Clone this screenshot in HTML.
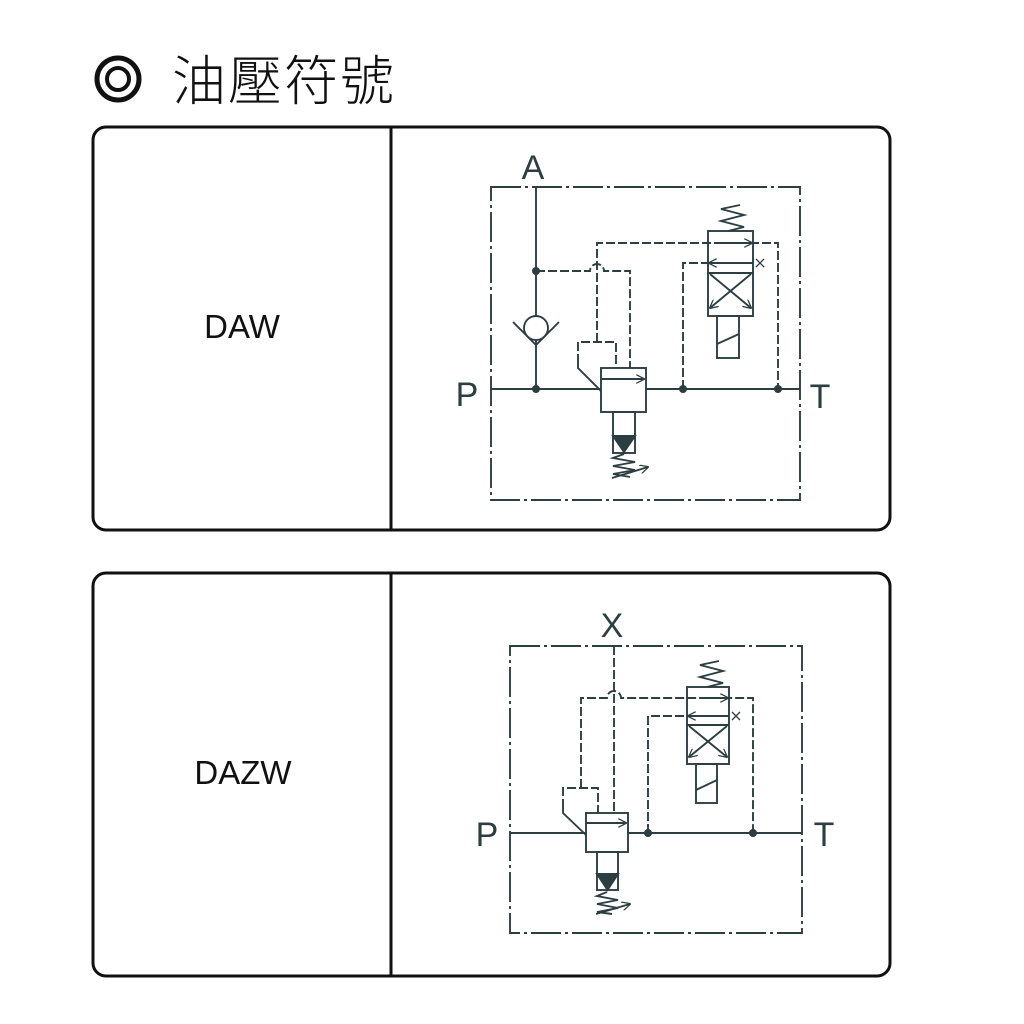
<!DOCTYPE html>
<html><head><meta charset="utf-8"><style>
html,body{margin:0;padding:0;background:#fff;width:1024px;height:1024px;overflow:hidden}
</style></head><body>
<svg width="1024" height="1024" viewBox="0 0 1024 1024" xmlns="http://www.w3.org/2000/svg">
<defs>
<marker id="ah" viewBox="0 0 10 10" refX="9" refY="5" markerWidth="9" markerHeight="9" markerUnits="userSpaceOnUse" orient="auto"><path d="M0,0 L10,5 L0,10" fill="none" stroke="#2d3e42" stroke-width="1.4"/></marker>
</defs>
<!-- title -->
<circle cx="118" cy="79" r="21" fill="none" stroke="#111" stroke-width="5"/>
<circle cx="118" cy="79" r="11" fill="none" stroke="#111" stroke-width="4"/>
<text x="172" y="100" font-family="'Liberation Sans','Noto Sans CJK TC',sans-serif" font-size="54" font-weight="300" fill="#111" letter-spacing="2">油壓符號</text>

<!-- panels -->
<rect x="93" y="127" width="797" height="403" rx="13" fill="none" stroke="#111" stroke-width="3"/>
<line x1="391" y1="127" x2="391" y2="530" stroke="#111" stroke-width="3"/>
<text x="242" y="338" text-anchor="middle" font-family="'Liberation Sans',sans-serif" font-size="33" fill="#111">DAW</text>
<rect x="93" y="573" width="797" height="403" rx="13" fill="none" stroke="#111" stroke-width="3"/>
<line x1="391" y1="573" x2="391" y2="976" stroke="#111" stroke-width="3"/>
<text x="243" y="784" text-anchor="middle" font-family="'Liberation Sans',sans-serif" font-size="33" fill="#111">DAZW</text>

<g stroke="#2d3e42" stroke-width="1.9" fill="none" font-family="'Liberation Sans',sans-serif">
<!-- ===== Diagram 1 ===== -->
<rect x="491" y="187" width="309" height="313" stroke-dasharray="30 4 3 4"/>
<text x="533" y="179" text-anchor="middle" font-size="34" fill="#2d3e42" stroke="none" font-weight="300">A</text>
<text x="467" y="406" text-anchor="middle" font-size="34" fill="#2d3e42" stroke="none" font-weight="300">P</text>
<text x="820" y="408" text-anchor="middle" font-size="34" fill="#2d3e42" stroke="none" font-weight="300">T</text>
<line x1="536" y1="187" x2="536" y2="316"/>
<line x1="536" y1="340" x2="536" y2="389"/>
<circle cx="536" cy="328" r="12"/>
<polyline points="513,322 536,345 559,322"/>
<line x1="491" y1="389" x2="601" y2="389"/>
<line x1="646" y1="389" x2="800" y2="389"/>
<g fill="#2d3e42" stroke="none"><circle cx="536" cy="271" r="4"/><circle cx="536" cy="389" r="4"/><circle cx="683" cy="389" r="4"/><circle cx="778" cy="389" r="4"/></g>
<g stroke-dasharray="9 3">
<path d="M536,271 H590 A7,7 0 0 1 604,271 H630 V368"/>
<path d="M597,342 V243 H778 V389"/>
<path d="M683,389 V263 H708"/>
<path d="M578,363 V342 H616 V368"/>
</g>
<path d="M578,363 V368 L601,391"/>
<rect x="601" y="368" width="45" height="44"/>
<line x1="601" y1="379" x2="644" y2="379" marker-end="url(#ah)"/>
<rect x="613" y="412" width="22" height="41"/>
<path d="M613,436 H635 L624,452 Z" fill="#2d3e42"/>
<polyline points="624,454 613,458 635,462 613,466 635,470 613,474 630,477"/>
<line x1="612" y1="478" x2="648" y2="467" marker-end="url(#ah)"/>
<rect x="708" y="231" width="45" height="85"/>
<line x1="708" y1="263" x2="753" y2="263"/>
<line x1="708" y1="273" x2="753" y2="273"/>
<line x1="720" y1="243" x2="752" y2="243" marker-end="url(#ah)"/>
<line x1="745" y1="263" x2="709" y2="263" marker-end="url(#ah)"/>
<line x1="710" y1="274" x2="751" y2="308" marker-end="url(#ah)"/>
<line x1="751" y1="274" x2="710" y2="308" marker-end="url(#ah)"/>
<path d="M756,259 L764,267 M764,259 L756,267" stroke-width="1.3"/>
<rect x="717" y="316" width="22" height="42"/>
<line x1="717" y1="344" x2="739" y2="334"/>
<polyline points="728,231 744,227 721,221 744,215 721,209 740,205"/>

<!-- ===== Diagram 2 ===== -->
<rect x="510" y="646" width="292" height="287" stroke-dasharray="30 4 3 4"/>
<text x="612" y="637" text-anchor="middle" font-size="34" fill="#2d3e42" stroke="none" font-weight="300">X</text>
<text x="487" y="846" text-anchor="middle" font-size="34" fill="#2d3e42" stroke="none" font-weight="300">P</text>
<text x="824" y="846" text-anchor="middle" font-size="34" fill="#2d3e42" stroke="none" font-weight="300">T</text>
<line x1="510" y1="833" x2="586" y2="833"/>
<line x1="628" y1="833" x2="802" y2="833"/>
<g fill="#2d3e42" stroke="none"><circle cx="648" cy="833" r="4"/><circle cx="753" cy="833" r="4"/></g>
<g stroke-dasharray="9 3">
<path d="M614,646 V813"/>
<path d="M581,788 V698 H607 A7,7 0 0 1 621,698 H753 V833"/>
<path d="M648,833 V716 H687"/>
<path d="M563,808 V788 H598 V813"/>
</g>
<path d="M563,808 V813 L586,835"/>
<rect x="586" y="813" width="42" height="39"/>
<line x1="586" y1="823" x2="626" y2="823" marker-end="url(#ah)"/>
<rect x="597" y="852" width="21" height="38"/>
<path d="M597,874 H618 L607.5,890 Z" fill="#2d3e42"/>
<polyline points="607,892 597,896 618,900 597,904 618,908 597,912 612,914"/>
<line x1="596" y1="914" x2="630" y2="904" marker-end="url(#ah)"/>
<rect x="687" y="687" width="42" height="77"/>
<line x1="687" y1="716" x2="729" y2="716"/>
<line x1="687" y1="725" x2="729" y2="725"/>
<line x1="700" y1="698" x2="728" y2="698" marker-end="url(#ah)"/>
<line x1="722" y1="716" x2="688" y2="716" marker-end="url(#ah)"/>
<line x1="689" y1="726" x2="727" y2="757" marker-end="url(#ah)"/>
<line x1="727" y1="726" x2="689" y2="757" marker-end="url(#ah)"/>
<path d="M732,712 L740,720 M740,712 L732,720" stroke-width="1.3"/>
<rect x="696" y="764" width="21" height="39"/>
<line x1="696" y1="790" x2="717" y2="780"/>
<polyline points="707,687 723,683 700,677 723,671 700,665 719,661"/>
</g>
</svg>
</body></html>
